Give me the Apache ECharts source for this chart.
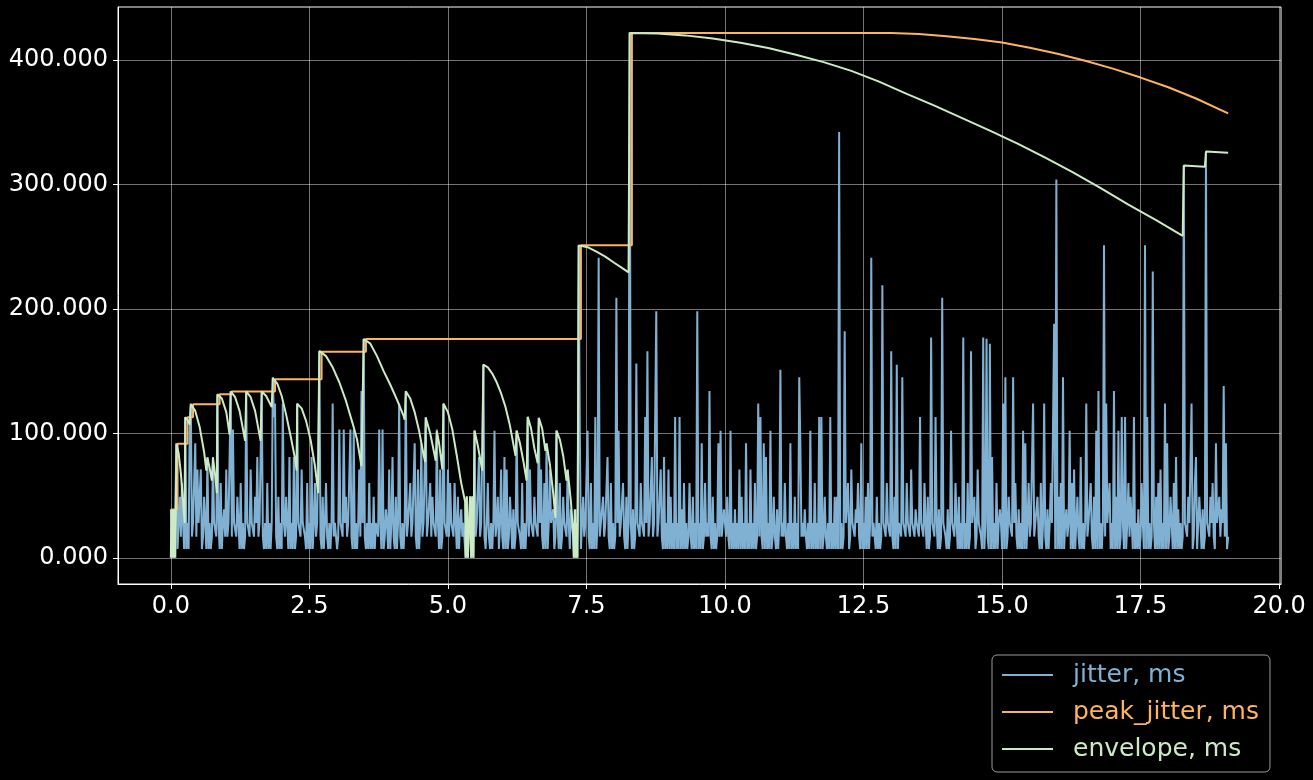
<!DOCTYPE html>
<html>
<head>
<meta charset="utf-8">
<title>jitter / peak_jitter / envelope</title>
<script src="https://cdn.jsdelivr.net/npm/echarts@6.0.0/dist/echarts.min.js"></script>
<style>
  html, body { margin: 0; padding: 0; background: #000; }
  #chart { width: 1313px; height: 780px; }
</style>
</head>
<body>
<div id="chart"></div>
<script>
// axis ticks
const xTicks = [0, 2.5, 5, 7.5, 10, 12.5, 15, 17.5, 20]
const yTicks = [0, 100, 200, 300, 400]

// jitter samples, one every 20 ms starting at t = 0 (one row per second)
const jitterStep = 0.02
const jitter = [
  39,0,39,0,39,92,7,28,49,17, 60,28,7,113,7,28,7,103,124,17, 28,28,92,17,71,28,28,71,7,17, 49,28,7,81,7,28,7,17,81,28, 28,17,131,28,7,60,7,28,39,17,
  71,17,28,28,134,17,103,28,28,17, 49,28,7,60,7,28,7,17,134,28, 28,17,71,28,28,17,49,28,81,17, 28,28,134,17,7,28,7,60,7,28, 7,28,145,113,124,17,7,49,7,28,
  7,124,28,17,49,28,7,81,7,28, 7,81,7,17,124,28,28,17,71,28, 28,17,7,60,7,28,7,81,7,28, 60,17,28,28,166,17,7,49,7,28, 60,17,7,28,7,28,124,17,28,28,
  7,17,103,28,28,17,103,28,49,17, 28,28,103,17,7,103,7,28,7,28, 71,17,134,28,176,17,7,28,7,60, 7,28,7,49,7,28,28,17,103,28, 7,103,7,17,39,28,7,71,7,28,
  81,17,7,49,7,28,124,17,7,28, 7,28,134,17,28,28,60,17,28,28, 92,17,7,71,7,28,92,17,28,28, 113,17,28,28,60,17,49,28,28,17, 103,28,7,71,7,17,124,28,28,17,
  71,17,60,28,28,17,60,28,7,49, 7,28,39,17,28,28,0,49,0,0, 49,0,49,0,102,17,28,28,81,17, 28,28,155,17,7,28,60,17,7,28, 7,28,102,17,28,49,7,28,71,17,
  7,81,7,71,7,17,49,28,7,39, 7,17,102,28,28,17,7,60,7,28, 7,28,113,17,71,28,28,17,49,28, 28,17,112,28,71,17,7,60,7,92, 7,28,71,28,28,39,7,17,102,28,
  7,60,7,17,49,28,28,17,71,28, 7,39,28,17,0,39,0,28,251,102, 7,28,49,17,28,28,102,17,7,60, 7,28,7,113,7,28,241,17,28,28, 49,17,28,28,81,17,7,60,7,28,
  7,17,209,28,102,17,28,28,60,17, 7,49,7,28,422,28,7,39,7,17, 156,28,28,17,60,28,28,17,113,28, 166,17,28,28,81,17,28,28,198,17, 28,28,71,17,7,81,7,28,7,71,
  7,49,7,28,7,113,7,28,7,113, 7,39,7,60,7,28,7,17,60,17, 7,49,7,28,7,198,7,28,7,92, 7,17,60,17,28,17,134,17,7,49, 7,28,7,17,92,17,102,17,28,39,
  28,17,49,17,7,102,7,28,7,39, 7,28,7,71,7,49,7,28,7,92, 7,28,7,71,7,28,7,60,7,17, 124,17,113,17,7,92,7,81,7,28, 7,102,7,17,49,17,7,39,7,28,
  151,17,28,17,60,17,7,28,7,92, 7,28,7,49,7,28,7,145,92,17, 28,17,39,17,7,28,7,102,7,28, 7,60,7,28,7,113,7,113,7,17, 49,17,7,28,7,113,7,28,7,49,
  7,49,7,342,7,28,7,17,182,28, 28,60,7,17,71,28,28,17,39,28, 60,17,7,92,7,28,7,49,7,60, 7,28,241,17,28,28,7,49,7,28, 7,17,219,28,28,17,60,28,28,17,
  166,17,7,49,7,155,7,28,28,17, 145,28,28,17,60,28,28,17,71,28, 28,17,39,28,28,17,113,28,28,17, 60,28,7,49,7,17,177,28,28,17, 113,28,7,39,7,17,209,28,28,17,
  7,39,7,17,102,28,28,17,60,28, 7,49,7,28,7,177,7,28,7,60, 7,17,166,28,28,49,7,17,71,28, 28,17,7,177,7,28,176,17,7,172, 7,81,7,28,7,60,7,28,39,28,
  7,124,7,145,7,17,49,28,28,17, 145,28,60,17,7,39,7,28,7,102, 7,92,7,28,60,17,28,28,124,17, 28,28,49,17,7,60,7,28,124,17, 7,39,7,28,60,28,28,188,7,304,
  7,49,7,60,7,145,7,28,39,17, 28,102,7,60,7,71,7,28,49,17, 7,81,7,28,7,28,124,17,28,28, 60,17,7,49,7,102,7,134,7,28, 7,28,251,17,124,28,28,60,7,28,
  7,134,7,49,7,102,7,17,113,28, 7,113,7,28,60,17,49,28,7,113, 7,28,7,39,7,17,60,28,7,251, 7,113,7,28,7,17,230,28,7,49, 7,60,7,71,7,28,7,124,7,92,
  7,17,49,28,7,60,7,81,7,39, 7,28,7,17,315,28,28,17,49,28, 28,124,7,17,60,81,7,28,49,28, 7,39,7,17,326,28,28,17,49,28, 60,17,7,92,28,28,49,17,39,28,
  138,17,92,7,17
]

// running maximum, [t, ms]
const peakJitter = [
  [0, 38.7], [0.12, 38.7], [0.12, 91.6], [0.3, 91.6], [0.3, 112.9], [0.4, 112.9],
  [0.4, 123.4], [0.88, 123.4], [0.88, 131.4], [1.1, 131.4], [1.1, 133.6], [1.88, 133.6],
  [1.88, 143.5], [2.72, 143.5], [2.72, 165.6], [3.52, 165.6], [3.52, 175.8], [7.4, 175.8],
  [7.4, 251], [8.32, 251], [8.32, 421.7], [13.0, 421.7], [13.5, 420.8], [14.0, 419],
  [14.5, 416.8], [15.0, 414], [15.5, 409.8], [16.0, 405], [16.5, 399.3], [17.0, 393],
  [17.5, 385.8], [18.0, 378], [18.5, 369], [19.08, 357]
]

// decaying envelope, [t, ms]
const envelope = [
  [0, 0], [0.01, 38.7], [0.02, 0], [0.04, 38.7], [0.05, 0], [0.07, 38.7], [0.08, 0], [0.09, 38.7],
  [0.1, 91.6], [0.14, 84], [0.18, 68], [0.22, 45], [0.25, 28], [0.26, 112.9], [0.3, 111],
  [0.34, 107], [0.36, 123.4], [0.44, 118], [0.52, 105], [0.6, 85], [0.64, 70], [0.66, 80.3],
  [0.7, 72], [0.74, 62], [0.76, 80.3], [0.8, 66], [0.83, 52], [0.84, 131.4], [0.92, 128],
  [1.0, 117], [1.06, 99], [1.08, 133.6], [1.16, 129], [1.24, 118], [1.34, 94], [1.36, 133.6],
  [1.44, 129], [1.52, 118], [1.62, 94], [1.64, 133.6], [1.72, 130], [1.82, 121], [1.84, 144.5],
  [1.92, 140], [2.0, 130], [2.08, 115], [2.16, 98], [2.24, 80], [2.27, 70], [2.28, 123.7],
  [2.36, 120], [2.44, 110], [2.52, 95], [2.6, 74], [2.66, 52], [2.68, 166.2], [2.8, 162],
  [2.92, 153], [3.04, 141], [3.16, 126], [3.28, 108], [3.36, 95], [3.44, 73.6], [3.48, 175.8],
  [3.6, 172], [3.72, 162], [3.84, 150], [3.96, 139], [4.08, 127], [4.2, 114], [4.22, 111],
  [4.24, 133.8], [4.32, 128], [4.4, 117], [4.48, 102], [4.56, 83], [4.59, 77], [4.6, 112.4],
  [4.68, 100], [4.78, 78], [4.8, 101.7], [4.84, 92], [4.9, 71], [4.92, 123.8], [5.0, 117],
  [5.08, 103], [5.16, 82], [5.24, 60], [5.31, 45], [5.32, 0], [5.34, 49.4], [5.36, 0],
  [5.4, 49.4], [5.42, 0], [5.44, 49.4], [5.46, 0], [5.48, 102.2], [5.54, 90], [5.62, 70],
  [5.64, 155.2], [5.72, 153], [5.8, 148], [5.88, 141], [5.96, 132], [6.04, 121], [6.12, 106],
  [6.22, 82], [6.24, 102.3], [6.3, 92], [6.36, 78], [6.42, 62], [6.44, 113.2], [6.5, 104],
  [6.56, 88], [6.62, 76], [6.64, 112.4], [6.7, 104], [6.76, 86], [6.78, 91.6], [6.84, 75],
  [6.9, 52], [6.94, 32], [6.96, 102.2], [7.02, 95], [7.08, 82], [7.14, 62], [7.16, 70.6],
  [7.22, 45], [7.26, 19], [7.27, 0], [7.29, 38.7], [7.31, 0], [7.33, 28], [7.34, 0],
  [7.36, 251], [7.52, 249.5], [7.68, 246], [7.84, 242], [8.0, 237], [8.12, 233.5], [8.26, 229.3],
  [8.28, 421.7], [8.78, 421.2], [9.28, 419.7], [9.78, 417.2], [10.28, 413.7], [10.78, 409.5],
  [11.28, 404.2], [11.78, 398.2], [12.28, 391.2], [12.78, 382.5], [13.28, 372.7], [13.78, 363.2],
  [14.28, 353.2], [14.78, 343.2], [15.28, 332.7], [15.78, 321.4], [16.28, 309.7], [16.78, 297],
  [17.28, 283.7], [17.78, 271.2], [18.26, 258.7], [18.28, 315.2], [18.66, 314.1], [18.68, 326.4],
  [19.08, 325.4]
]

const seriesNames = ['jitter, ms', 'peak_jitter, ms', 'envelope, ms']
const colors = ['#81b1d2', '#fdb462', '#ccebc4']

const FONT = 'DejaVu Sans'

const jitterData = jitter.map((v, i) => [Math.round(i * jitterStep * 100) / 100, v])

const chart = echarts.init(document.getElementById('chart'))

const option = {
  backgroundColor: '#000',
  animation: false,
  grid: {
    left: 118,
    right: 32,
    top: 7,
    bottom: 196,
    show: true,
    borderColor: '#ffffff',
    borderWidth: 1,
    backgroundColor: 'transparent',
  },
  xAxis: {
    type: 'value',
    min: -0.954,
    max: 20.034,
    axisLine: { show: true, onZero: false, lineStyle: { color: '#ffffff', width: 1 } },
    axisTick: {
      show: true,
      customValues: xTicks,
      length: 5,
      lineStyle: { color: '#ffffff', width: 1 },
    },
    axisLabel: {
      customValues: xTicks,
      color: '#ffffff',
      fontFamily: FONT,
      fontSize: 24,
      margin: 11,
      formatter: v => v.toFixed(1),
    },
    splitLine: { show: true, lineStyle: { color: 'rgba(255,255,255,0.45)', width: 1 } },
  },
  yAxis: {
    type: 'value',
    min: -21.07,
    max: 442.5,
    axisLine: { show: true, onZero: false, lineStyle: { color: '#ffffff', width: 1 } },
    axisTick: {
      show: true,
      customValues: yTicks,
      length: 5,
      lineStyle: { color: '#ffffff', width: 1 },
    },
    axisLabel: {
      customValues: yTicks,
      color: '#ffffff',
      fontFamily: FONT,
      fontSize: 24,
      margin: 10,
      formatter: v => v.toFixed(3),
    },
    splitLine: { show: true, lineStyle: { color: 'rgba(255,255,255,0.45)', width: 1 } },
  },
  legend: {
    orient: 'vertical',
    left: 992,
    top: 655,
    padding: [6, 11, 9, 9],
    itemWidth: 51,
    itemHeight: 14,
    itemGap: 9,
    selectedMode: false,
    backgroundColor: '#000',
    borderColor: '#9a9a9a',
    borderWidth: 1,
    borderRadius: 5,
    itemStyle: { opacity: 0 },
    textStyle: { fontFamily: FONT, fontSize: 25, lineHeight: 28, padding: [0, 0, 0, 15] },
    data: seriesNames.map((n, i) => ({ name: n, textStyle: { color: colors[i] } })),
  },
  series: [
    {
      name: seriesNames[0],
      type: 'line',
      data: jitterData,
      symbol: 'none',
      silent: true,
      lineStyle: { color: colors[0], width: 2 },
      itemStyle: { color: colors[0] },
      z: 2,
    },
    {
      name: seriesNames[1],
      type: 'line',
      data: peakJitter,
      symbol: 'none',
      silent: true,
      lineStyle: { color: colors[1], width: 2 },
      itemStyle: { color: colors[1] },
      z: 3,
    },
    {
      name: seriesNames[2],
      type: 'line',
      data: envelope,
      symbol: 'none',
      silent: true,
      lineStyle: { color: colors[2], width: 2 },
      itemStyle: { color: colors[2] },
      z: 4,
    },
  ],
}

chart.setOption(option)
</script>
</body>
</html>
